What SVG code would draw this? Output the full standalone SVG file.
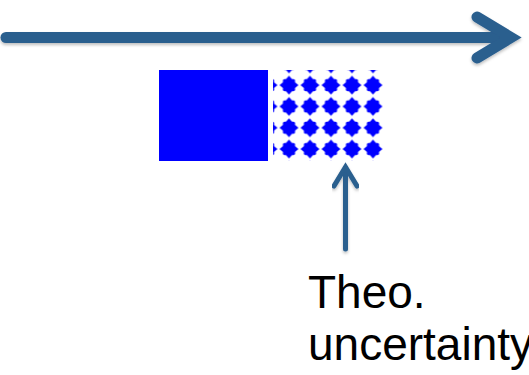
<svg xmlns="http://www.w3.org/2000/svg" width="529" height="375" viewBox="0 0 529 375">
  <style>
    .conn { fill: none; stroke: #2a5e8e; stroke-linecap: round; stroke-linejoin: miter; }
    .label { font-family: "Liberation Sans", Arial, sans-serif; font-size: 46px; fill: #000; }
  </style>
  <defs>
    <filter id="sh" x="-5%" y="-50%" width="110%" height="200%">
      <feDropShadow dx="0" dy="2" stdDeviation="1.5" flood-color="#000" flood-opacity="0.25"/>
    </filter>
    <pattern id="dots" patternUnits="userSpaceOnUse" x="278.5" y="74.5" width="21" height="21.3">
      <path transform="translate(10.5,10.65)" fill="#0000ff" d="M0,-9.5 L3,-6 Q6.8,-6.8 6,-3 L9.5,0 L6,3 Q6.8,6.8 3,6 L0,9.5 L-3,6 Q-6.8,6.8 -6,3 L-9.5,0 L-6,-3 Q-6.8,-6.8 -3,-6 Z"/>
    </pattern>
  </defs>
  <g id="measurement">
    <rect x="159" y="70" width="109" height="91" fill="#0000ff"/>
  </g>
  <g id="uncertainty-band">
    <rect x="273" y="70" width="110" height="91" fill="url(#dots)"/>
  </g>
  <g id="label">
    <text class="label" x="308" y="308">Theo.</text>
    <text class="label" x="308" y="360">uncertainty</text>
  </g>
  <g id="connectors">
    <g filter="url(#sh)">
      <path class="conn" stroke-width="11" stroke-linecap="butt" d="M6,37.5 L508,37.5"/>
      <path class="conn" stroke-width="11" d="M477,17 L511,37.5 L477,58"/>
    </g>
    <g filter="url(#sh)">
      <path class="conn" stroke-width="5" stroke-linecap="butt" d="M345.5,249 L345.5,168"/>
      <path class="conn" stroke-width="5" d="M334,186 L345.5,167 L357,186"/>
    </g>
  </g>
</svg>
